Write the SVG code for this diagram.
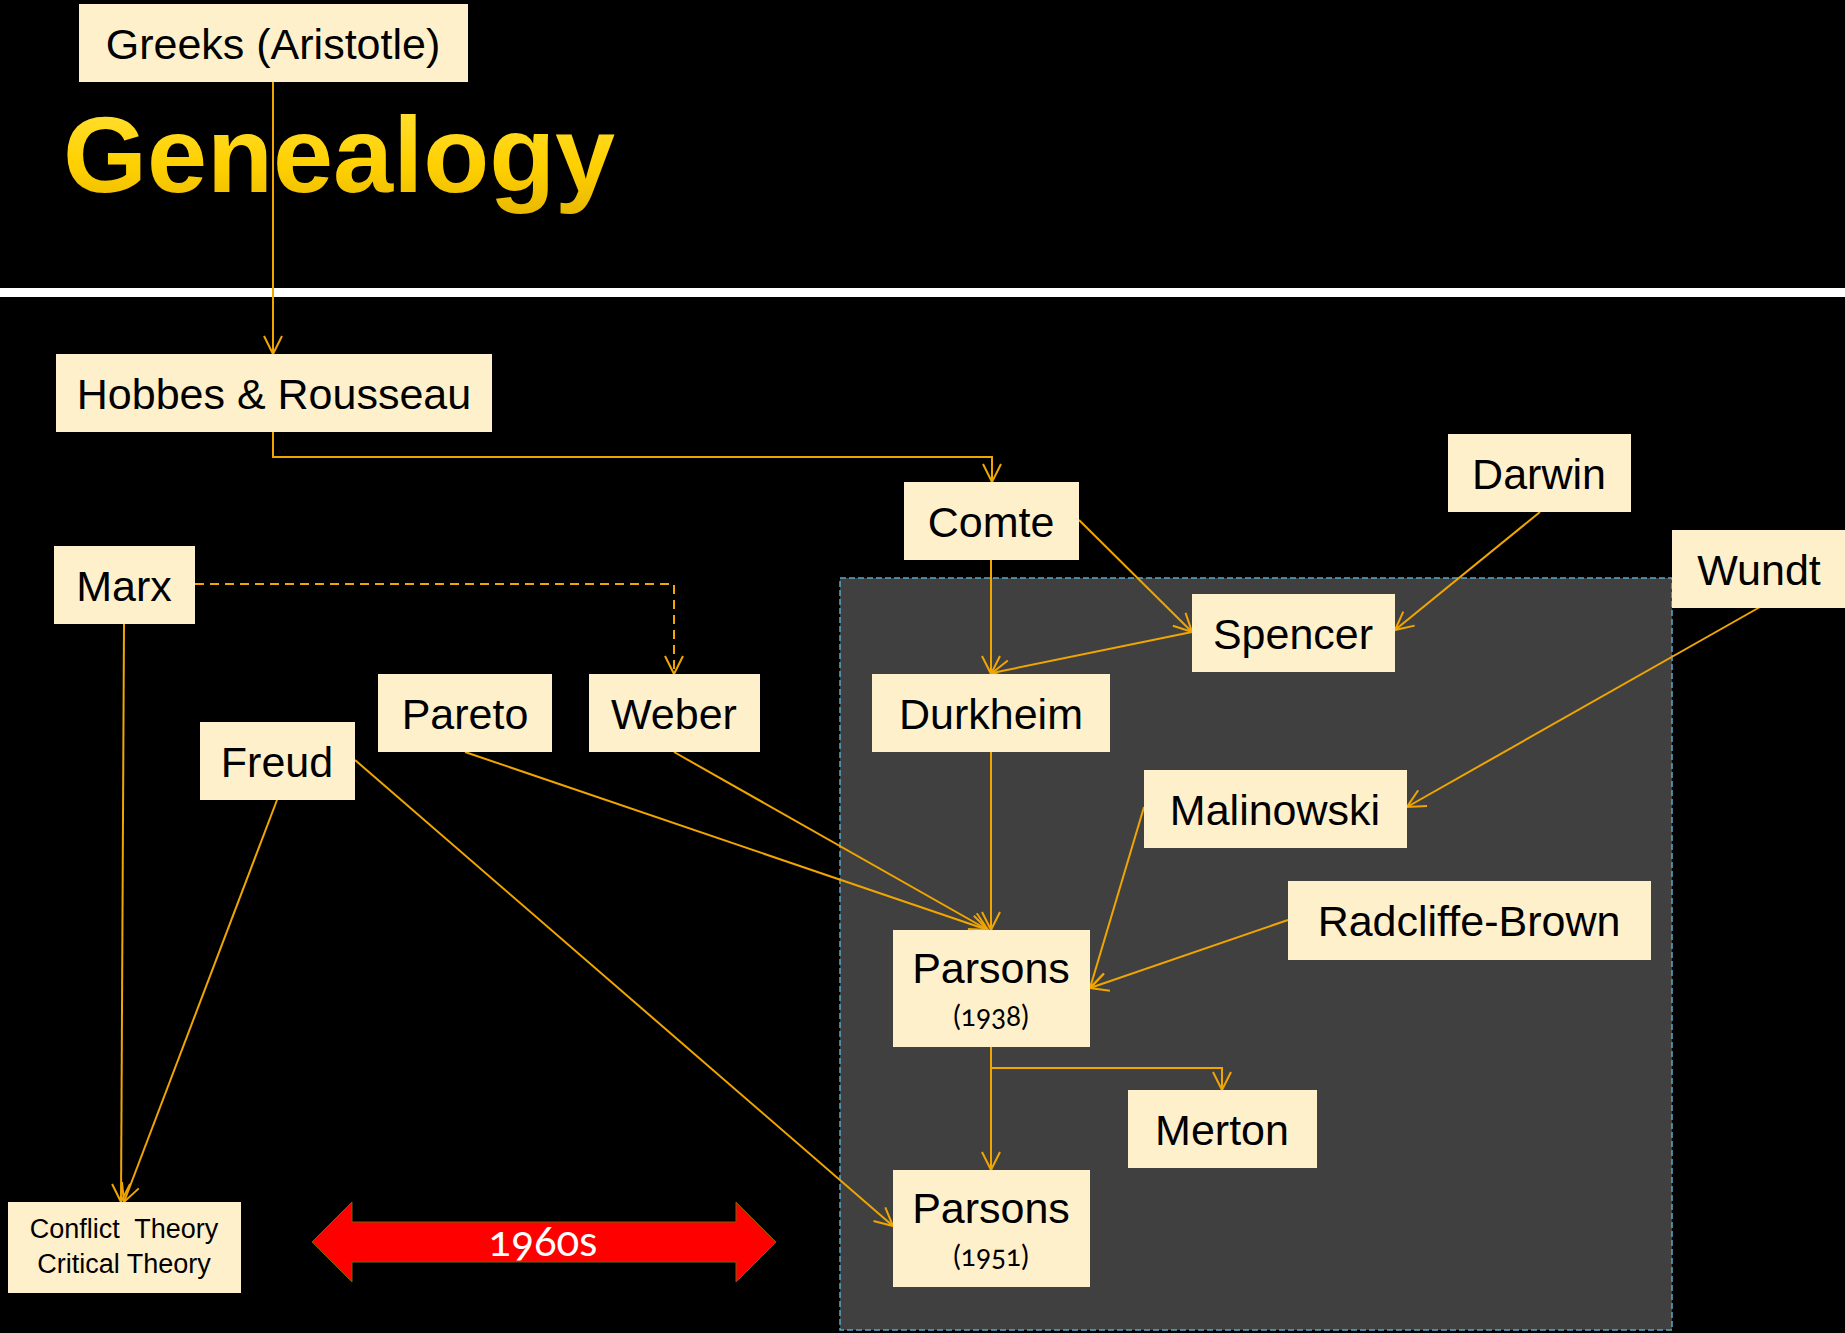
<svg xmlns="http://www.w3.org/2000/svg" width="1845" height="1333" viewBox="0 0 1845 1333">
<style>
.box{fill:#FFF0CC}
.lbl{font-family:"Liberation Sans",Arial,sans-serif;font-size:43px;fill:#000;text-anchor:middle}
.sub{font-family:Lato,"Liberation Sans",Arial,sans-serif;font-size:28px;fill:#000;text-anchor:middle;font-variant-numeric:oldstyle-nums;font-feature-settings:"onum" 1}
.sm{font-family:"Liberation Sans",Arial,sans-serif;font-size:27px;fill:#000;text-anchor:middle}
.yr{font-family:Lato,"Liberation Sans",Arial,sans-serif;font-size:42px;fill:#FFF;text-anchor:middle;font-variant-numeric:oldstyle-nums;font-feature-settings:"onum" 1}
.c{fill:none;stroke:#F0A500;stroke-width:2;marker-end:url(#ah)}
.d{stroke-dasharray:9,6}
</style>
<defs>
<marker id="ah" viewBox="0 0 20 20" refX="19" refY="10" markerWidth="20" markerHeight="20" markerUnits="userSpaceOnUse" orient="auto">
<path d="M1,1 L19,10 L1,19" fill="none" stroke="#F0A500" stroke-width="2"/>
</marker>
<linearGradient id="gold" x1="0" y1="0" x2="0" y2="1">
<stop offset="0" stop-color="#FFE23A"/>
<stop offset="0.6" stop-color="#FFD000"/>
<stop offset="1" stop-color="#E8B800"/>
</linearGradient>
</defs>
<rect x="0" y="0" width="1845" height="1333" fill="#000"/>
<rect x="0" y="288" width="1845" height="9" fill="#FFF"/>
<text x="63" y="192" font-family="Liberation Sans,Arial,sans-serif" font-weight="bold" font-size="108" fill="url(#gold)">Genealogy</text>
<rect id="highlight-box" x="840" y="578" width="832" height="752" fill="#404040" stroke="#5BA8C8" stroke-width="1.5" stroke-dasharray="6,3"/>
<g id="connectors">
<path class="c" d="M273,82 V354"/>
<path class="c" d="M273,432 V457 H992 V482"/>
<path class="c" d="M991,560 V674"/>
<path class="c" d="M1079,520 L1192,632"/>
<path class="c" d="M1192,632 L992,673"/>
<path class="c" d="M1540,512 L1395,630"/>
<path class="c" d="M1760,607 L1407,807"/>
<path class="c" d="M991,752 V930"/>
<path class="c" d="M465,752 L988,930"/>
<path class="c" d="M674,752 L988,930"/>
<path class="c" d="M1144,807 L1090,988"/>
<path class="c" d="M1288,920 L1090,988"/>
<path class="c" d="M991,1047 V1068 H1222 V1090"/>
<path class="c" d="M991,1047 V1170"/>
<path class="c" d="M355,760 L893,1226"/>
<path class="c" d="M277,800 L124,1202"/>
<path class="c" d="M124,624 L121,1202"/>
<path class="c d" d="M195,584 H674 V674"/>
</g>
<g id="greeks"><rect class="box" x="79" y="4" width="389" height="78"/><text class="lbl" x="273" y="59">Greeks (Aristotle)</text></g>
<g id="hobbes"><rect class="box" x="56" y="354" width="436" height="78"/><text class="lbl" x="274" y="409">Hobbes &amp; Rousseau</text></g>
<g id="comte"><rect class="box" x="904" y="482" width="175" height="78"/><text class="lbl" x="991" y="537">Comte</text></g>
<g id="darwin"><rect class="box" x="1448" y="434" width="183" height="78"/><text class="lbl" x="1539" y="489">Darwin</text></g>
<g id="wundt"><rect class="box" x="1672" y="530" width="173" height="78"/><text class="lbl" x="1759" y="585">Wundt</text></g>
<g id="marx"><rect class="box" x="54" y="546" width="141" height="78"/><text class="lbl" x="124" y="601">Marx</text></g>
<g id="spencer"><rect class="box" x="1192" y="594" width="203" height="78"/><text class="lbl" x="1293" y="649">Spencer</text></g>
<g id="pareto"><rect class="box" x="378" y="674" width="174" height="78"/><text class="lbl" x="465" y="729">Pareto</text></g>
<g id="weber"><rect class="box" x="589" y="674" width="171" height="78"/><text class="lbl" x="674" y="729">Weber</text></g>
<g id="durkheim"><rect class="box" x="872" y="674" width="238" height="78"/><text class="lbl" x="991" y="729">Durkheim</text></g>
<g id="freud"><rect class="box" x="200" y="722" width="155" height="78"/><text class="lbl" x="277" y="777">Freud</text></g>
<g id="malinowski"><rect class="box" x="1144" y="770" width="263" height="78"/><text class="lbl" x="1275" y="825">Malinowski</text></g>
<g id="radcliffe-brown"><rect class="box" x="1288" y="881" width="363" height="79"/><text class="lbl" x="1469" y="936">Radcliffe-Brown</text></g>
<g id="parsons1938"><rect class="box" x="893" y="930" width="197" height="117"/><text class="lbl" x="991" y="983">Parsons</text><text class="sub" x="991" y="1026">(1938)</text></g>
<g id="merton"><rect class="box" x="1128" y="1090" width="189" height="78"/><text class="lbl" x="1222" y="1145">Merton</text></g>
<g id="parsons1951"><rect class="box" x="893" y="1170" width="197" height="117"/><text class="lbl" x="991" y="1223">Parsons</text><text class="sub" x="991" y="1266">(1951)</text></g>
<g id="conflict"><rect class="box" x="8" y="1202" width="233" height="91"/><text class="sm" x="124" y="1238" xml:space="preserve">Conflict  Theory</text><text class="sm" x="124" y="1273">Critical Theory</text></g>
<g id="timespan">
<polygon points="312,1242 352,1202 352,1222 736,1222 736,1202 776,1242 736,1282 736,1262 352,1262 352,1282" fill="#FF0000" stroke="#7F6000" stroke-width="1"/>
<text class="yr" x="543" y="1256">1960s</text>
</g>
</svg>
